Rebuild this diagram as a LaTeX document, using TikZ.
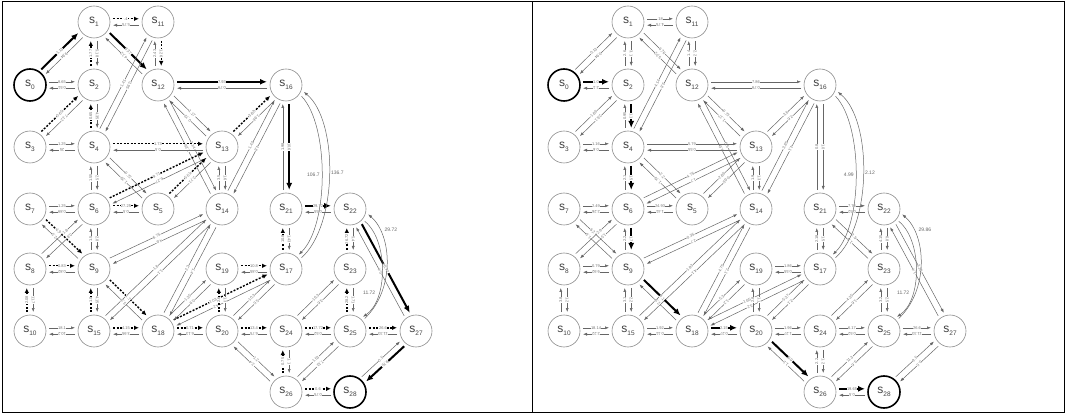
\documentclass[tikz,border=0pt]{standalone}
\usepackage{fontspec}
\setmainfont{Liberation Sans}
\usetikzlibrary{calc,arrows.meta}
\newcommand\sn[1]{s\raisebox{-2.5pt}{\fontsize{6.5}{7}\selectfont #1}}
\tikzset{
 nd/.style={circle, draw=black!45, line width=0.6pt, minimum size=32pt, inner sep=0pt, font=\fontsize{12}{12}\selectfont, text=black!75},
 ndk/.style={nd, draw=black, line width=1.6pt},
 et/.style={draw=black!60, line width=0.5pt, -{Latex[length=4pt,width=3pt]}},
 ek/.style={draw=black, line width=2pt, -{Latex[length=7pt,width=6pt]}},
 ed/.style={draw=black, line width=1.4pt, dash pattern=on 2pt off 1.5pt, -{Latex[length=5pt,width=4.5pt]}},
 lb/.style={font=\fontsize{4}{4}\selectfont, text=black!55, fill=white, inner sep=0.3pt, sloped, allow upside down},
 cl/.style={font=\fontsize{5}{5}\selectfont, text=black!60, inner sep=0.5pt},
}
\def\lp{.5}
\newcommand\pe[6]{%
 \draw[#3] ($(#1.center)!19pt!(#2.center)!3.2pt!90:(#2.center)$) -- node[lb,pos=\lp]{#4} ($(#2.center)!19pt!(#1.center)!3.2pt!-90:(#1.center)$);
 \draw[#5] ($(#2.center)!19pt!(#1.center)!3.2pt!90:(#1.center)$) -- node[lb,pos=1-\lp]{#6} ($(#1.center)!19pt!(#2.center)!3.2pt!-90:(#2.center)$);}
\newcommand\placenodes[2]{%
\begin{scope}[xshift=#2pt]
\node[ndk] (#10) at (30,330) {\sn{0}};
\node[nd] (#11) at (94,393) {\sn{1}};
\node[nd] (#111) at (158,393) {\sn{11}};
\node[nd] (#12) at (94,330) {\sn{2}};
\node[nd] (#112) at (158,330) {\sn{12}};
\node[nd] (#116) at (286,330) {\sn{16}};
\node[nd] (#13) at (30,268) {\sn{3}};
\node[nd] (#14) at (94,268) {\sn{4}};
\node[nd] (#113) at (222,268) {\sn{13}};
\node[nd] (#17) at (30,206) {\sn{7}};
\node[nd] (#16) at (94,206) {\sn{6}};
\node[nd] (#15) at (158,206) {\sn{5}};
\node[nd] (#114) at (222,206) {\sn{14}};
\node[nd] (#121) at (286,206) {\sn{21}};
\node[nd] (#122) at (350,206) {\sn{22}};
\node[nd] (#18) at (30,146) {\sn{8}};
\node[nd] (#19) at (94,146) {\sn{9}};
\node[nd] (#119) at (222,146) {\sn{19}};
\node[nd] (#117) at (286,146) {\sn{17}};
\node[nd] (#123) at (350,146) {\sn{23}};
\node[nd] (#110) at (30,84) {\sn{10}};
\node[nd] (#115) at (94,84) {\sn{15}};
\node[nd] (#118) at (158,84) {\sn{18}};
\node[nd] (#120) at (222,84) {\sn{20}};
\node[nd] (#124) at (286,84) {\sn{24}};
\node[nd] (#125) at (350,84) {\sn{25}};
\node[nd] (#127) at (416,84) {\sn{27}};
\node[nd] (#126) at (286,23) {\sn{26}};
\node[ndk] (#128) at (350,23) {\sn{28}};
\end{scope}}
% curved connectors: prefix, label inner 16-17, label outer, label 22-25 outer, label inner
\newcommand\curves[5]{%
 \draw[et, shorten <=3pt, shorten >=3pt] (#117.35) .. controls +(38.9,34.8) and +(36.8,-30.1) .. node[cl, pos=.5, right=1.5pt]{#3} (#116.-18);
 \draw[et, shorten <=3pt, shorten >=3pt] (#116.-34) .. controls +(29.7,-31.1) and +(32.5,31.9) .. node[cl, pos=.5, left=1pt]{#2} (#117.49);
 \draw[et, shorten <=3pt, shorten >=3pt] (#125.40) .. controls +(32.7,30.7) and +(26.3,-22.7) .. node[cl, pos=.8, right=5pt]{#4} (#122.-12);
 \draw[et, shorten <=3pt, shorten >=3pt] (#122.-40) .. controls +(25.7,-20.7) and +(27.7,18.7) .. node[cl, pos=.7, left=2pt]{#5} (#125.50);
}
\begin{document}
\begin{tikzpicture}[x=1pt,y=1pt]
\useasboundingbox (0,0) rectangle (1067,415);
\draw[line width=0.8pt] (2.5,3) rectangle (1064,413.5);
\draw[line width=0.8pt] (532.5,3) -- (532.5,413.5);
\placenodes{a}{0}
\placenodes{b}{534}
% ---------- left panel ----------
\pe{a0}{a1}{ek}{1.13}{et}{9.84}
\pe{a0}{a2}{et}{8.65}{et}{0.51}
\pe{a1}{a11}{ed}{.4}{et}{5.75}
\pe{a1}{a2}{et}{5.18}{ed}{1.77}
\pe{a1}{a12}{ek}{8.37}{et}{4.12}
\pe{a11}{a12}{ed}{1.26}{et}{2.43}
\pe{a4}{a11}{et}{1.41}{et}{3.95}
\pe{a3}{a2}{ed}{0.65}{et}{7.12}
\pe{a2}{a4}{et}{4.35}{ed}{0.65}
\pe{a12}{a16}{ek}{7.93}{et}{0.79}
\pe{a12}{a13}{et}{1.17}{et}{0.73}
\pe{a12}{a14}{et}{3.14}{et}{1.26}
\pe{a3}{a4}{et}{1.25}{et}{25}
\pe{a4}{a13}{ed}{1.73}{et}{0.5}
\pe{a6}{a13}{ed}{9.71}{et}{6.27}
\pe{a4}{a5}{et}{0.72}{et}{1.25}
\pe{a4}{a6}{et}{2.5}{et}{1.55}
\pe{a5}{a13}{ed}{5.51}{et}{2.71}
\pe{a13}{a16}{ed}{3.82}{et}{1.96}
\pe{a13}{a14}{et}{1.6}{et}{3.5}
\pe{a14}{a16}{et}{1.43}{et}{4.8}
\pe{a16}{a21}{ek}{10.6}{et}{1.98}
\pe{a21}{a22}{ek}{29.72}{et}{0.55}
\pe{a21}{a17}{et}{1.43}{ed}{10.8}
\pe{a22}{a23}{et}{5.4}{ed}{26.72}
\pe{a22}{a27}{ek}{26.72}{et}{0.4}
\pe{a23}{a25}{et}{1.71}{ed}{28.2}
\pe{a25}{a27}{ed}{26.6}{et}{11.33}
\pe{a27}{a28}{ek}{9.75}{et}{0.5}
\pe{a26}{a28}{ed}{0.6}{et}{0.75}
\pe{a24}{a26}{et}{1.1}{ed}{0.75}
\pe{a26}{a25}{et}{1.53}{et}{7.13}
\pe{a24}{a25}{ed}{17.72}{et}{0.52}
\pe{a24}{a23}{et}{16.3}{et}{3.6}
\pe{a20}{a24}{ed}{13.4}{et}{6.75}
\pe{a20}{a26}{et}{1.2}{et}{2.4}
\pe{a20}{a17}{et}{10.3}{et}{5.5}
\def\lp{.42}
\pe{a18}{a17}{ed}{1.03}{et}{4.2}
\def\lp{.5}
\pe{a19}{a17}{ed}{10.8}{et}{0.85}
\pe{a18}{a19}{et}{1.35}{et}{0.9}
\pe{a19}{a20}{et}{1.3}{ed}{2.6}
\pe{a18}{a20}{ed}{0.71}{et}{6.13}
\pe{a18}{a14}{et}{2.2}{et}{1.4}
\pe{a9}{a14}{et}{6.75}{et}{4.8}
\pe{a15}{a14}{et}{1.8}{et}{1.1}
\pe{a9}{a18}{ed}{1.7}{et}{3.3}
\pe{a9}{a15}{et}{4.15}{ed}{1.0}
\pe{a15}{a18}{ed}{4.15}{et}{3.95}
\pe{a10}{a15}{et}{18.1}{et}{10.2}
\pe{a8}{a10}{et}{11.7}{ed}{2.08}
\pe{a8}{a9}{ed}{0.83}{et}{0.82}
\pe{a7}{a6}{et}{1.25}{et}{0.89}
\pe{a6}{a5}{ed}{27.25}{et}{0.5}
\pe{a6}{a9}{et}{2.8}{et}{1.5}
\def\lp{.35}
\pe{a7}{a9}{ed}{1.9}{et}{2.5}
\def\lp{.65}
\pe{a8}{a6}{et}{1.8}{et}{0.8}
\def\lp{.5}
\curves{a}{106.7}{136.7}{29.72}{11.72}
% ---------- right panel ----------
\pe{b0}{b1}{et}{0.13}{et}{0.94}
\pe{b0}{b2}{ek}{1.0}{et}{2.1}
\pe{b1}{b11}{et}{.18}{et}{4.75}
\pe{b1}{b2}{et}{3.1}{et}{2.6}
\pe{b1}{b12}{et}{6.76}{et}{5.02}
\pe{b11}{b12}{et}{2.2}{et}{1.4}
\pe{b4}{b11}{et}{4.14}{et}{3.8}
\pe{b3}{b2}{et}{1.86}{et}{26.1}
\pe{b2}{b4}{ek}{1.1}{et}{0.95}
\pe{b12}{b16}{et}{7.86}{et}{0.79}
\pe{b12}{b13}{et}{0.73}{et}{1.17}
\pe{b12}{b14}{et}{5.5}{et}{1.6}
\pe{b3}{b4}{et}{1.16}{et}{0.6}
\pe{b4}{b13}{et}{5.79}{et}{0.55}
\pe{b6}{b13}{et}{4.75}{et}{1.7}
\pe{b4}{b5}{et}{2.2}{et}{1.75}
\pe{b4}{b6}{ek}{1.5}{et}{2.1}
\pe{b5}{b13}{et}{2.86}{et}{0.65}
\pe{b13}{b16}{et}{3.6}{et}{2.6}
\pe{b13}{b14}{et}{1.3}{et}{1.9}
\pe{b14}{b16}{et}{3.85}{et}{4.1}
\pe{b16}{b21}{et}{1.0}{et}{0.8}
\pe{b21}{b22}{et}{7.76}{et}{0.52}
\pe{b21}{b17}{et}{1.5}{et}{2.18}
\pe{b21}{b23}{et}{2.5}{et}{1.5}
\pe{b22}{b23}{et}{6.8}{et}{4.15}
\pe{b22}{b27}{et}{3.25}{et}{1.4}
\pe{b23}{b25}{et}{2.5}{et}{3.2}
\pe{b25}{b27}{et}{26.6}{et}{11.33}
\pe{b27}{b28}{et}{0.5}{et}{9.5}
\pe{b26}{b28}{ek}{19.65}{et}{0.5}
\pe{b24}{b26}{et}{1.2}{et}{2.2}
\pe{b26}{b25}{et}{11.3}{et}{3.6}
\pe{b24}{b25}{et}{6.17}{et}{0.52}
\pe{b24}{b23}{et}{4.35}{et}{1.6}
\pe{b20}{b24}{et}{1.96}{et}{1.27}
\pe{b20}{b26}{ek}{6.9}{et}{1.1}
\pe{b20}{b17}{et}{5.37}{et}{2.1}
\def\lp{.42}
\pe{b18}{b17}{et}{1.65}{et}{3.2}
\def\lp{.5}
\pe{b19}{b17}{et}{1.86}{et}{0.55}
\pe{b18}{b19}{et}{5.3}{et}{1.2}
\pe{b19}{b20}{et}{1.1}{et}{2.8}
\pe{b18}{b20}{ek}{2.15}{et}{0.27}
\pe{b18}{b14}{et}{4.75}{et}{2.1}
\pe{b9}{b14}{et}{0.35}{et}{2.7}
\pe{b15}{b14}{et}{1.93}{et}{4.1}
\pe{b9}{b18}{ek}{4.1}{et}{2.9}
\pe{b9}{b15}{et}{2.2}{et}{3.1}
\pe{b15}{b18}{et}{1.92}{et}{0.11}
\pe{b10}{b15}{et}{18.14}{et}{2.22}
\pe{b8}{b10}{et}{1.2}{et}{3.8}
\pe{b8}{b9}{et}{0.79}{et}{9.92}
\pe{b7}{b6}{et}{2.49}{et}{2.26}
\pe{b6}{b5}{et}{24.93}{et}{1.41}
\pe{b6}{b9}{ek}{1.7}{et}{2.2}
\def\lp{.35}
\pe{b7}{b9}{et}{5.2}{et}{1.9}
\def\lp{.65}
\pe{b8}{b6}{et}{2.9}{et}{1.5}
\def\lp{.5}
\curves{b}{4.99}{2.12}{29.86}{11.72}
\end{tikzpicture}
\end{document}
